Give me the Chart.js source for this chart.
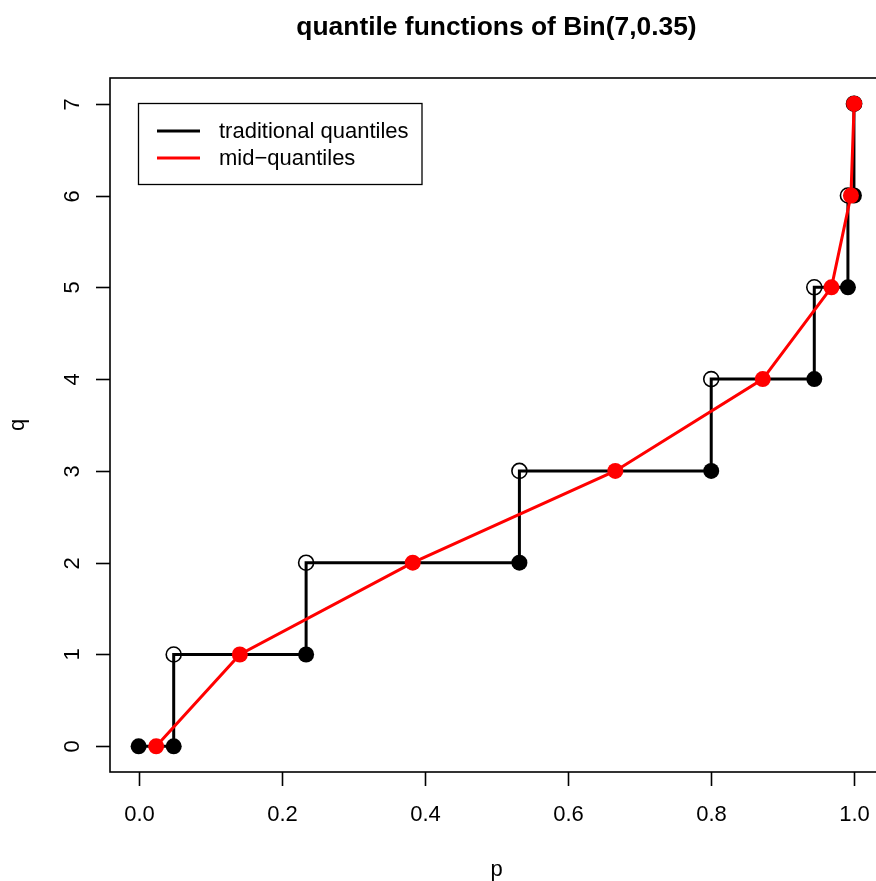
<!DOCTYPE html>
<html>
<head>
<meta charset="utf-8">
<script src="https://cdn.jsdelivr.net/npm/chart.js@4/dist/chart.umd.min.js"></script>
<style>
  html, body { margin: 0; padding: 0; overflow: hidden; background: #fff; }
  #wrap { width: 900px; height: 881px; }
</style>
</head>
<body>
<div id="wrap"><canvas id="chart" width="900" height="881"></canvas></div>
<script>
// cumulative probabilities of Bin(7, 0.35)
const cdfP = [0.049, 0.234, 0.532, 0.800, 0.944, 0.991, 0.9994, 1.0];
const quantiles = [0, 1, 2, 3, 4, 5, 6, 7];
// mid-quantile p values
const midP = [0.0245, 0.1414, 0.383, 0.666, 0.872, 0.968, 0.9952, 0.9997];

const xTicks = [0, 0.2, 0.4, 0.6, 0.8, 1.0];
const xTickLabels = ["0.0", "0.2", "0.4", "0.6", "0.8", "1.0"];
const yTicks = [0, 1, 2, 3, 4, 5, 6, 7];
const yTickLabels = ["0", "1", "2", "3", "4", "5", "6", "7"];

const titre = "quantile functions of Bin(7,0.35)";
const legendeNoms = ["traditional quantiles", "mid\u2212quantiles"];
const legendeCouleurs = ["#000000", "#ff0000"];

// step line of the traditional quantile function
const escalier = [{ x: 0, y: 0 }];
quantiles.forEach((q, i) => {
  if (i > 0) escalier.push({ x: cdfP[i - 1], y: q });
  if (i < quantiles.length - 1) escalier.push({ x: cdfP[i], y: q });
});
escalier.push({ x: 1, y: 7 });

const pleins = [{ x: 0, y: 0 }].concat(quantiles.map((q, i) => ({ x: cdfP[i], y: q })));
const vides = quantiles.slice(1).map((q, i) => ({ x: cdfP[i], y: q }));
const milieux = quantiles.map((q, i) => ({ x: midP[i], y: q }));

const FONT = '"Liberation Sans", Arial, Helvetica, sans-serif';

const dessinR = {
  id: "dessinR",
  afterDraw(chart) {
    const ctx = chart.ctx;
    const a = chart.chartArea;
    const sx = chart.scales.x, sy = chart.scales.y;
    ctx.save();
    ctx.strokeStyle = "#000";
    ctx.fillStyle = "#000";

    // box
    ctx.lineWidth = 1.6;
    ctx.strokeRect(a.left, a.top, a.right - a.left, a.bottom - a.top);

    // x ticks
    ctx.font = "22px " + FONT;
    ctx.textAlign = "center";
    ctx.textBaseline = "alphabetic";
    xTicks.forEach((v, i) => {
      const px = Math.round(sx.getPixelForValue(v)) + 0.5;
      ctx.beginPath();
      ctx.moveTo(px, a.bottom);
      ctx.lineTo(px, a.bottom + 14);
      ctx.stroke();
      ctx.fillText(xTickLabels[i], px, 820.5);
    });

    // y ticks
    yTicks.forEach((v, i) => {
      const py = Math.round(sy.getPixelForValue(v)) + 0.5;
      ctx.beginPath();
      ctx.moveTo(a.left, py);
      ctx.lineTo(a.left - 14, py);
      ctx.stroke();
      ctx.save();
      ctx.translate(79, py);
      ctx.rotate(-Math.PI / 2);
      ctx.fillText(yTickLabels[i], 0, 0);
      ctx.restore();
    });

    // axis titles
    ctx.fillText("p", (a.left + a.right) / 2, 876);
    ctx.save();
    ctx.translate(23.5, (a.top + a.bottom) / 2);
    ctx.rotate(-Math.PI / 2);
    ctx.fillText("q", 0, 0);
    ctx.restore();

    // title
    ctx.font = "bold 26.4px " + FONT;
    ctx.fillText(titre, (a.left + a.right) / 2, 35);

    // legend
    ctx.fillStyle = "#fff";
    ctx.fillRect(138.5, 103.5, 283.5, 81);
    ctx.lineWidth = 1.3;
    ctx.strokeRect(138.5, 103.5, 283.5, 81);
    ctx.font = "22px " + FONT;
    ctx.textAlign = "left";
    ctx.textBaseline = "middle";
    legendeNoms.forEach((nom, i) => {
      const ly = 131 + i * 27;
      ctx.strokeStyle = legendeCouleurs[i];
      ctx.lineWidth = 3;
      ctx.beginPath();
      ctx.moveTo(157, ly);
      ctx.lineTo(200, ly);
      ctx.stroke();
      ctx.fillStyle = "#000";
      ctx.fillText(nom, 219, ly + 1);
    });
    ctx.restore();
  }
};

new Chart(document.getElementById("chart"), {
  type: "scatter",
  data: {
    datasets: [
      {
        label: "mid-quantiles points",
        data: milieux,
        showLine: true,
        borderColor: "#ff0000",
        borderWidth: 3,
        pointRadius: 8,
        pointBackgroundColor: "#ff0000",
        pointBorderColor: "#ff0000",
        pointBorderWidth: 0
      },
      {
        label: "filled",
        data: pleins,
        pointRadius: 8,
        pointBackgroundColor: "#000",
        pointBorderColor: "#000",
        pointBorderWidth: 0
      },
      {
        label: "open",
        data: vides,
        pointRadius: 7.5,
        pointBackgroundColor: "rgba(255,255,255,0)",
        pointBorderColor: "#000",
        pointBorderWidth: 1.6
      },
      {
        label: "traditional quantiles",
        data: escalier,
        showLine: true,
        borderColor: "#000",
        borderWidth: 3,
        pointRadius: 0
      }
    ]
  },
  options: {
    responsive: false,
    animation: false,
    layout: { padding: { left: 110, top: 78, right: 17, bottom: 109 } },
    plugins: {
      legend: { display: false },
      tooltip: { enabled: false },
      title: { display: false }
    },
    scales: {
      x: { type: "linear", display: false, min: -0.04, max: 1.04 },
      y: { type: "linear", display: false, min: -0.28, max: 7.28 }
    }
  },
  plugins: [dessinR]
});
</script>
</body>
</html>
